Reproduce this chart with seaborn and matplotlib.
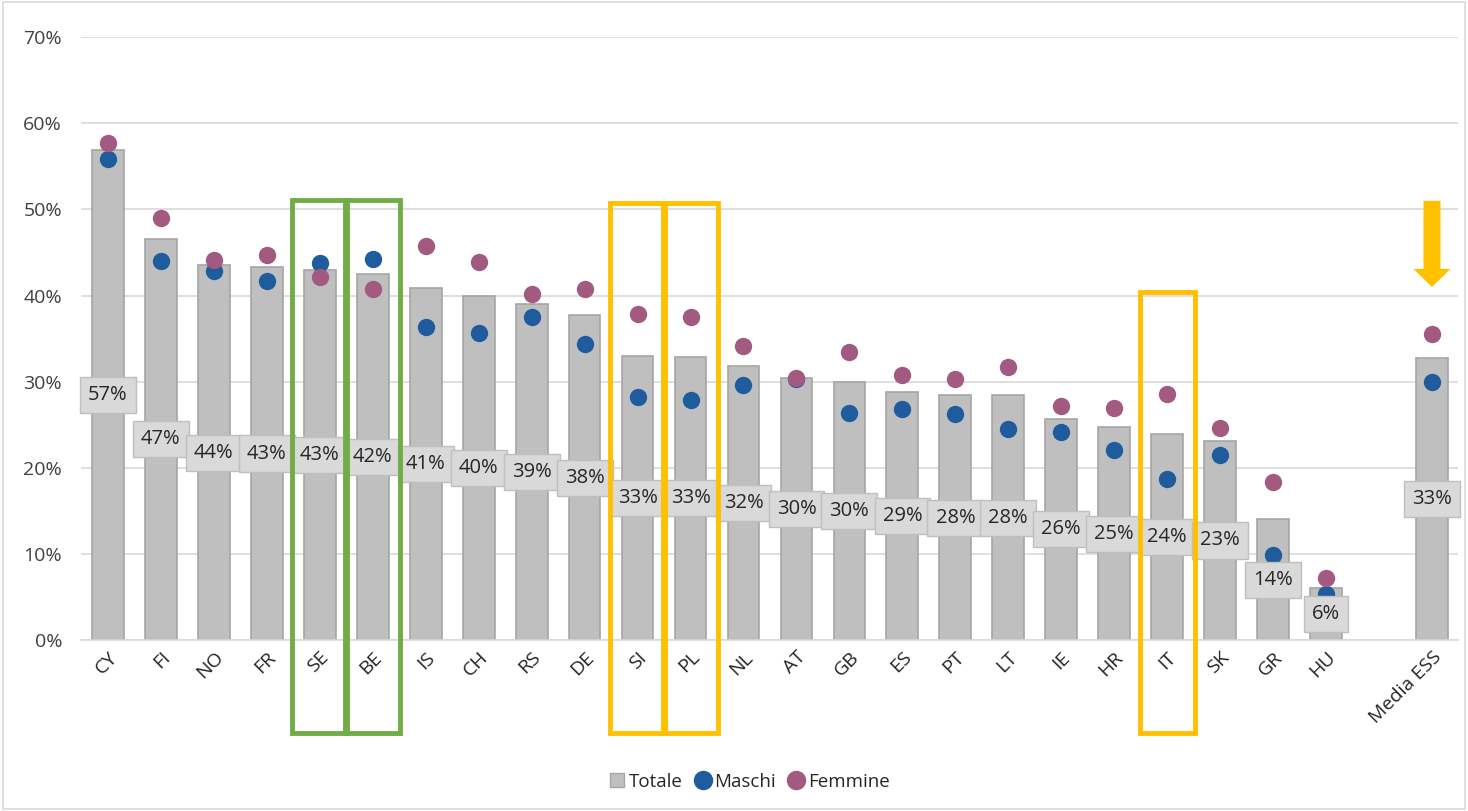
import matplotlib.pyplot as plt
import matplotlib.patches as mpatches
from matplotlib.lines import Line2D
import numpy as np
import pandas as pd
import seaborn as sns

# dati (percentuali)
paesi = ["CY", "FI", "NO", "FR", "SE", "BE", "IS", "CH", "RS", "DE", "SI", "PL",
         "NL", "AT", "GB", "ES", "PT", "LT", "IE", "HR", "IT", "SK", "GR", "HU",
         "Media ESS"]
totale = [56.9, 46.6, 43.5, 43.3, 43.0, 42.5, 40.9, 39.9, 39.0, 37.7, 33.0, 32.9,
          31.8, 30.4, 30.0, 28.8, 28.4, 28.4, 25.7, 24.7, 23.9, 23.1, 14.0, 6.0,
          32.8]
maschi = [55.9, 44.0, 42.8, 41.7, 43.8, 44.2, 36.3, 35.7, 37.5, 34.4, 28.2, 27.9,
          29.6, 30.3, 26.3, 26.8, 26.2, 24.5, 24.1, 22.1, 18.7, 21.5, 9.9, 5.3,
          30.0]
femmine = [57.7, 49.0, 44.1, 44.7, 42.2, 40.8, 45.8, 43.9, 40.2, 40.8, 37.8, 37.5,
           34.1, 30.4, 33.4, 30.8, 30.3, 31.7, 27.2, 26.9, 28.6, 24.6, 18.3, 7.2,
           35.5]
etichette = ["57%", "47%", "44%", "43%", "43%", "42%", "41%", "40%", "39%", "38%",
             "33%", "33%", "32%", "30%", "30%", "29%", "28%", "28%", "26%", "25%",
             "24%", "23%", "14%", "6%", "33%"]

# posizione vuota tra HU e la media
ordine = paesi[:-1] + [" "] + ["Media ESS"]

df = pd.DataFrame({"paese": paesi, "totale": totale,
                   "maschi": maschi, "femmine": femmine})

sns.set_style("white")
plt.rcParams["font.family"] = ["Open Sans", "DejaVu Sans"]

GRIGIO = "#bfbfbf"
BLU = "#1f5c9e"
ROSA = "#a35a80"
VERDE = "#70ad47"
GIALLO = "#ffc000"

fig = plt.figure(figsize=(14.68, 8.11), dpi=100)
ax = fig.add_axes([0.0555, 0.211, 0.938, 0.743])

sns.barplot(data=df, x="paese", y="totale", order=ordine, color=GRIGIO,
            saturation=1, width=0.6, edgecolor="#a5a5a5", linewidth=1.2, ax=ax)
sns.stripplot(data=df, x="paese", y="maschi", order=ordine, color=BLU,
              jitter=False, size=12.5, linewidth=0, ax=ax, zorder=4)
sns.stripplot(data=df, x="paese", y="femmine", order=ordine, color=ROSA,
              jitter=False, size=12.5, linewidth=0, ax=ax, zorder=5)

# etichette con riquadro al centro della barra
for p, v, t in zip(paesi, totale, etichette):
    i = ordine.index(p)
    ax.text(i, v / 2, t, ha="center", va="center", fontsize=14.5, color="#262626",
            zorder=6,
            bbox=dict(boxstyle="square,pad=0.4", fc="#d9d9d9", ec="#bfbfbf", lw=1))

ax.set_ylim(0, 70)
ax.set_xlim(-0.5, len(ordine) - 0.5)
ax.set_yticks(np.arange(0, 71, 10))
ax.set_yticklabels([f"{v}%" for v in range(0, 71, 10)], fontsize=14, color="#404040")
ax.yaxis.grid(True, color="#d9d9d9", lw=1.2)
ax.set_axisbelow(True)
ax.tick_params(axis="y", length=0, pad=14)
ax.tick_params(axis="x", length=0, pad=6)
ax.set_xticks(range(len(ordine)))
ax.set_xticklabels(ordine, rotation=45, ha="right", rotation_mode="anchor",
                   fontsize=14, color="#262626")
ax.set_xlabel("")
ax.set_ylabel("")
for s in ["top", "right", "left"]:
    ax.spines[s].set_visible(False)
ax.spines["bottom"].set_color("#d9d9d9")
ax.spines["bottom"].set_linewidth(1.2)

# riquadri di evidenziazione
def riquadro(p, top, colore):
    i = ordine.index(p)
    r = mpatches.Rectangle((i - 0.52, -10.8), 1.04, top + 10.8, fill=False,
                           ec=colore, lw=3.5, clip_on=False, zorder=7)
    ax.add_patch(r)

for p in ["SE", "BE"]:
    riquadro(p, 51.1, VERDE)
for p in ["SI", "PL"]:
    riquadro(p, 50.8, GIALLO)
riquadro("IT", 40.4, GIALLO)

# freccia sulla media
im = ordine.index("Media ESS")
ax.annotate("", xy=(im, 41.0), xytext=(im, 51.0),
            arrowprops=dict(arrowstyle="simple,head_width=1.85,head_length=0.9,tail_width=0.85",
                            fc=GIALLO, ec="none", mutation_scale=14.4,
                            shrinkA=0, shrinkB=0), zorder=7)

# legenda
handles = [
    Line2D([], [], marker="s", ls="", ms=10, mfc=GRIGIO, mec="#a6a6a6", label="Totale"),
    Line2D([], [], marker="o", ls="", ms=13, mfc=BLU, mec=BLU, label="Maschi"),
    Line2D([], [], marker="o", ls="", ms=13, mfc=ROSA, mec=ROSA, label="Femmine"),
]
fig.legend(handles=handles, loc="center", bbox_to_anchor=(0.51, 0.036), ncol=3,
           frameon=False, fontsize=13.5, handlelength=1.0, handletextpad=0.1,
           columnspacing=0.6)

# bordo dell'area grafico
fig.patches.append(mpatches.Rectangle((0.002, 0.003), 0.996, 0.994, fill=False,
                                      ec="#d9d9d9", lw=1.2, transform=fig.transFigure))

fig.savefig("out.png", dpi=100)
